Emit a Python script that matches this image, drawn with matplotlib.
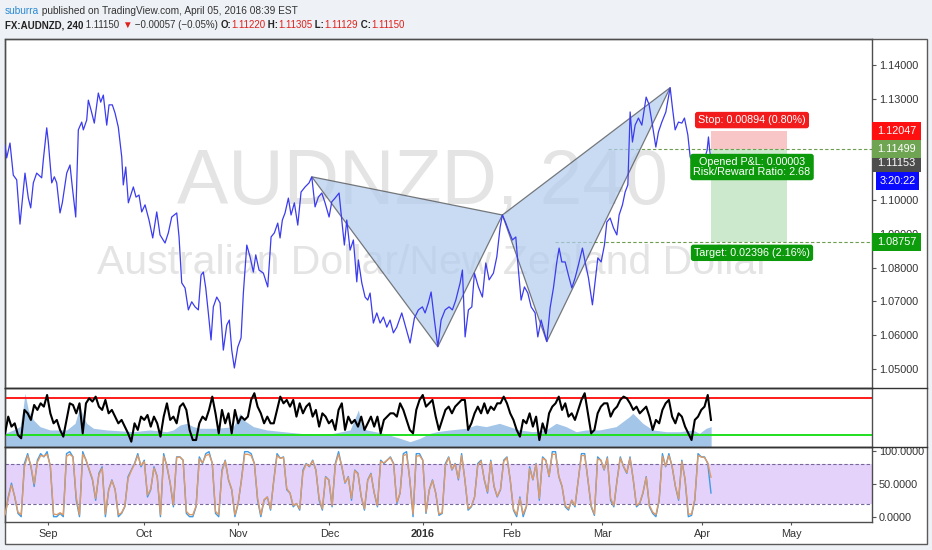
import matplotlib
matplotlib.use("Agg")
import matplotlib.pyplot as plt
import matplotlib.font_manager as fm
from matplotlib.patches import Polygon, Rectangle
from matplotlib.lines import Line2D
import numpy as np

# the screenshot is squeezed sideways, a narrow face fits it best
names = {f.name for f in fm.fontManager.ttflist}
NARROW = "Liberation Sans Narrow" if "Liberation Sans Narrow" in names else "Liberation Sans"
plt.rcParams["font.family"] = [NARROW, "DejaVu Sans"]
TICK_FS = 8.9 if NARROW.endswith("Narrow") else 7.8

# ---- data (x = trading days from Aug 17 2015) ----
price_x = [0.0, 0.4, 1.17, 1.94, 2.74, 3.51, 4.68, 5.46, 6.02, 6.63, 7.42, 8.59, 8.97, 9.77, 10.14, 10.94, 11.55,
           12.11, 12.88, 13.42, 14.45, 15.22, 15.76, 16.56, 17.17, 17.96, 18.34, 19.13, 19.51, 20.14, 20.91, 21.85,
           22.41, 23.02, 23.82, 24.36, 25.13, 25.76, 26.53, 27.33, 27.70, 28.27, 28.88, 30.05, 30.68, 31.38, 32.01,
           32.79, 33.72, 34.59, 35.53, 36.30, 37.47, 38.24, 39.04, 40.21, 40.75, 41.38, 42.15,
           42.93, 43.72, 44.50, 45.27, 45.90, 46.44, 47.00, 47.61, 48.24, 48.78, 49.58, 50.35, 51.12, 51.92, 52.53,
           53.09, 53.70, 54.50, 55.27, 55.81, 56.61, 57.38, 58.15, 58.71, 59.48, 60.49, 61.52, 62.30, 63.07, 63.86,
           64.40, 64.94, 65.57, 66.35, 66.98, 67.75, 68.55, 69.32, 70.26, 71.19, 71.83, 72.60, 73.37, 74.17, 74.94,
           75.88, 76.51, 77.28, 78.22, 78.85, 79.46, 80.02, 80.80, 81.57, 82.37, 82.74, 83.54, 84.31,
           84.94, 85.48, 86.25, 87.05, 87.82, 88.60, 89.39, 90.16, 90.94, 91.73, 92.90, 93.68, 94.85, 95.86, 96.79,
           97.73, 98.36, 99.13, 99.77, 100.54, 101.34, 102.11, 103.04, 103.98, 104.75, 105.55, 106.56, 107.10,
           107.73, 108.50, 109.30, 109.91, 110.84, 111.78, 112.58, 113.35, 114.36, 115.15, 115.93, 116.46, 117.26,
           118.03, 118.81, 119.60, 120.21, 120.84, 121.62, 122.41, 123.19, 124.12, 124.75, 125.53, 126.86,
           127.63, 128.41, 129.20, 129.74, 130.37, 131.15, 131.92, 132.72, 133.49, 134.26, 135.20, 135.83, 136.61,
           137.54, 138.17, 138.81, 139.58, 140.35, 140.91, 141.69, 142.46, 143.26, 143.79, 144.57, 145.20, 145.83,
           146.37, 146.91, 147.54, 148.31, 149.11, 150.12, 150.82, 151.59, 152.39, 153.00, 153.79, 154.73, 155.74,
           156.28, 156.91, 157.68, 158.48, 159.09, 159.88, 160.42, 161.59, 162.76, 163.70, 164.40, 164.71, 164.99,
           165.34]
price_y = [1.1163, 1.1125, 1.1169, 1.1074, 1.1060, 1.0929, 1.1080, 1.1006, 1.0977, 1.1051, 1.1080, 1.1066, 1.1119,
           1.1214, 1.1172, 1.1051, 1.1069, 1.1051, 1.0962, 1.0992, 1.1080, 1.1104, 1.1039, 1.0950, 1.1208, 1.1231,
           1.1208, 1.1237, 1.1296, 1.1267, 1.1228, 1.1317, 1.1290, 1.1311, 1.1222, 1.1282, 1.1282, 1.1258, 1.1216,
           1.1128, 1.1045, 1.1098, 1.0992, 1.1039, 1.1009, 1.1015, 1.0965, 1.0986, 1.0941, 1.0888, 1.0965, 1.0897,
           1.0873, 1.0903, 1.0950, 1.0962, 1.0891, 1.0755, 1.0740,
           1.0675, 1.0699, 1.0684, 1.0675, 1.0778, 1.0787, 1.0740, 1.0666, 1.0586, 1.0684, 1.0713, 1.0696, 1.0556,
           1.0630, 1.0645, 1.0556, 1.0503, 1.0565, 1.0592, 1.0725, 1.0867, 1.0832, 1.0787, 1.0838, 1.0793, 1.0784,
           1.0743, 1.0891, 1.0903, 1.0932, 1.0888, 1.0941, 1.0962, 1.1006, 1.0956, 1.0992, 1.0926, 1.1024, 1.1039,
           1.1051, 1.1069, 1.0980, 1.1009, 1.1021, 1.0992, 1.0950, 1.0995, 1.1006, 1.1021, 1.0941, 1.0867, 1.0941,
           1.0852, 1.0882, 1.0758, 1.0823, 1.0755, 1.0713,
           1.0704, 1.0725, 1.0636, 1.0666, 1.0636, 1.0654, 1.0624, 1.0645, 1.0607, 1.0624, 1.0666, 1.0630, 1.0577,
           1.0651, 1.0675, 1.0684, 1.0666, 1.0696, 1.0728, 1.0645, 1.0566, 1.0645, 1.0675, 1.0684, 1.0675, 1.0704,
           1.0755, 1.0793, 1.0595, 1.0675, 1.0684, 1.0784, 1.0743, 1.0713, 1.0814, 1.0764, 1.0784, 1.0832, 1.0920,
           1.0956, 1.0932, 1.0906, 1.0882, 1.0891, 1.0793, 1.0704, 1.0743, 1.0725, 1.0684, 1.0666, 1.0595, 1.0645,
           1.0581,
           1.0681, 1.0740, 1.0817, 1.0858, 1.0817, 1.0817, 1.0778, 1.0740, 1.0770, 1.0808, 1.0858, 1.0817, 1.0770,
           1.0690, 1.0758, 1.0829, 1.0817, 1.0867, 1.0935, 1.0947, 1.0918, 1.0897, 1.0956, 1.0986, 1.1024, 1.1045,
           1.1261, 1.1172, 1.1222, 1.1243, 1.1222, 1.1305, 1.1282, 1.1222, 1.1157, 1.1202, 1.1231, 1.1261, 1.1333,
           1.1273, 1.1208, 1.1231, 1.1228, 1.1243, 1.1193, 1.1128, 1.1104, 1.1101, 1.1119, 1.1148, 1.1187, 1.1148,
           1.1115]

# bat pattern points X, A, B, C, D
bat_x = [71.83, 101.34, 116.46, 126.86, 155.74]
bat_y = [1.1069, 1.0566, 1.0956, 1.0581, 1.1333]

# position tool
entry, stop, target = 1.11499, 1.12047, 1.08757
pos_start, pos_end = 165.3, 183.1
entry_line_start, target_line_start = 141.2, 128.8

# right scale tags: value shown, position, colour
tag_text = ["1.12047", "1.11153", "1.11499", "3:20:22", "1.08757"]
tag_pos = [1.12047, 1.1109, 1.11499, 1.1057, 1.08757]
tag_color = ["#ff1010", "#4d4d4d", "#6fa552", "#0a0aff", "#0c9c0c"]

price_ticks = [1.05, 1.06, 1.07, 1.08, 1.09, 1.10, 1.11, 1.12, 1.13, 1.14]

month_pos = [10.07, 32.55, 54.5, 75.95, 97.9, 118.5, 139.8, 163.2, 184.1]
month_lab = ["Sep", "Oct", "Nov", "Dec", "2016", "Feb", "Mar", "Apr", "May"]

# oscillator panel (black line) and its shaded companion
osc_vals = [31.8, 50, 39.1, 42.7, 30, 26.4, 57.3, 53.6, 46.4, 62.7, 57.3, 64.5, 60.9, 73.6, 53.6, 42.7, 46.4, 35.5,
            28.2, 46.4, 64.5, 62.7, 53.6, 64.5, 31.8, 64.5, 70, 66.4, 71.8, 60.9, 57.3, 68.2, 53.6, 57.3, 50, 42.7,
            46.4, 39.1, 31.8, 22.7, 42.7, 35.5, 50, 46.4, 51.8, 39.1, 50, 42.7, 28.2, 50, 64.5, 46.4, 50, 42.7, 60.9,
            64.5, 57.3, 35.5, 24.5, 24.5, 42.7, 50, 46.4, 57.3, 71.8, 53.6, 31.8, 57.3, 42.7, 53.6, 31.8, 57.3, 42.7,
            50, 46.4, 50, 68.2, 75.5, 60.9, 53.6, 42.7, 50, 42.7, 42.7, 57.3, 71.8, 64.5, 68.2, 60.9, 68.2, 50, 64.5,
            53.6, 60.9, 64.5, 50, 57.3, 39.1, 53.6, 50, 42.7, 46.4, 35.5, 57.3, 64.5, 35.5, 50, 42.7, 46.4, 39.1, 50,
            35.5, 42.7, 50, 39.1, 50, 31.8, 46.4, 50, 53.6, 53.6, 50, 64.5, 57.3, 46.4, 35.5, 31.8, 57.3, 68.2, 73.6,
            60.9, 64.5, 68.2, 50, 35.5, 46.4, 57.3, 60.9, 53.6, 60.9, 64.5, 68.2, 68.2, 35.5,
            42.7, 53.6, 60.9, 53.6, 64.5, 53.6, 60.9, 57.3, 64.5, 64.5, 71.8, 64.5, 53.6, 46.4, 35.5, 28.2, 46.4, 42.7,
            53.6, 39.1, 50, 24.5, 42.7, 31.8, 53.6, 60.9, 64.5, 71.8, 57.3, 64.5, 50, 53.6, 46.4, 57.3, 68.2, 75.5,
            53.6, 31.8, 35.5, 53.6, 60.9, 64.5, 64.5, 50, 57.3, 60.9, 68.2, 71.8, 70, 64.5, 57.3, 60.9, 53.6, 57.3,
            60.9, 50, 35.5, 46.4, 42.7, 57.3, 64.5, 68.2, 50, 42.7, 53.6, 50, 39.1, 31.8, 24.5, 46.4, 50, 57.3, 60.9,
            73.6, 46.4]
area_x = [0.0, 1.95, 3.51, 4.29, 4.68, 5.46, 6.64, 8.2, 10.54, 14.44, 16.39, 17.56, 18.35, 19.13, 20.69, 23.81,
          30.06, 33.96, 37.86, 39.42, 41.0, 42.55, 44.11, 45.67, 49.57, 53.47, 55.04, 55.82, 58.16, 61.28, 65.18,
          69.09, 73.0, 76.89, 80.8, 82.75, 83.53, 84.7, 88.6, 92.5, 94.85, 97.19, 99.53, 101.1, 104.2, 107.96,
          110.3, 112.65, 115.77, 118.11, 120.45, 123.58, 126.7, 129.04, 131.38, 133.73, 136.07, 139.19, 143.09,
          146.21, 147.0, 149.34, 151.68, 154.8, 157.92, 161.04, 162.6, 164.17, 165.34]
area_v = [31.8, 35.5, 39.1, 60.9, 75.5, 57.3, 46.4, 39.1, 35.5, 35.5, 42.7, 60.9, 50, 42.7, 37.3, 35.5, 33.6, 35.5,
          33.6, 35.5, 40.9, 42.7, 39.1, 37.3, 37.3, 39.1, 53.6, 46.4, 39.1, 35.5, 33.6, 31.8, 30, 31.8, 35.5, 57.3,
          39.1, 35.5, 31.8, 26.4, 22.7, 26.4, 31.8, 33.6, 35.5, 37.3, 40.9, 39.1, 42.7, 39.1, 35.5, 33.6, 35.5, 42.7,
          39.1, 33.6, 35.5, 35.5, 39.1, 50, 53.6, 42.7, 35.5, 33.6, 33.6, 35.5, 31.8, 37.3, 39.1]
osc_hi, osc_lo = 70, 30

# stochastic %K (blue) and %D (orange)
stoch_k = [0, 30, 51, 30, 5, 0, 81, 96, 76, 46, 86, 96, 91, 99, 76, 0, 0, 5, 0, 96, 99, 91, 25, 0, 99, 86, 71, 56,
           25, 66, 76, 0, 41, 56, 41, 0, 5, 15, 61, 71, 81, 96, 76, 86, 30, 41, 76, 61, 0, 96, 76, 51, 15, 91, 91, 86,
           5, 0, 0, 15, 91, 81, 96, 99, 81, 5, 0, 71, 86, 56, 41, 0, 20, 56, 99, 99, 96, 81, 25, 0, 25, 30, 10, 56,
           96, 89, 91, 41, 36, 15, 20, 10, 71, 81, 76, 86, 71, 25, 10, 61, 56, 15, 81, 99, 76, 51, 61, 25, 71, 66,
           30, 10, 56, 66, 36, 15, 86, 81, 86, 91, 81, 20, 36, 96, 99, 56, 0, 96, 96, 86, 5, 41, 56, 36, 2, 5, 81,
           91, 71, 81, 56, 96, 56, 10,
           15, 30, 81, 86, 56, 36, 86, 46, 30, 41, 86, 91, 56, 10, 0, 30, 0, 15, 76, 56, 81, 25, 91, 86, 61, 99, 99,
           61, 46, 15, 10, 25, 15, 56, 96, 96, 56, 15, 2, 91, 86, 71, 91, 25, 15, 56, 91, 76, 66, 91, 56, 15, 20, 36,
           61, 15, 5, 0, 25, 96, 76, 96, 76, 46, 25, 86, 56, 0, 2, 25, 96, 91, 91, 81, 36]
stoch_d = [3, 28, 48, 31, 7, 3, 76, 93, 78, 50, 83, 93, 92, 95, 78, 4, 3, 6, 3, 92, 95, 91, 30, 3, 95, 87, 72, 58,
           28, 64, 74, 4, 40, 55, 42, 3, 6, 16, 58, 70, 80, 93, 78, 84, 33, 42, 74, 61, 3, 92, 78, 52, 18, 90, 91, 86,
           8, 3, 3, 16, 88, 82, 93, 95, 82, 8, 3, 68, 85, 57, 42, 3, 21, 55, 95, 95, 93, 81, 28, 3, 26, 30, 12, 55,
           93, 89, 90, 43, 36, 17, 20, 12, 68, 80, 77, 85, 71, 28, 12, 60, 56, 17, 79, 95, 77, 52, 60, 28, 70, 65,
           31, 12, 55, 65, 37, 17, 84, 82, 86, 90, 80, 22, 36, 93, 95, 57, 4, 92, 93, 86, 7, 40, 55, 36, 4, 6, 78,
           90, 72, 80, 58, 93, 57, 12,
           16, 30, 78, 85, 57, 38, 84, 47, 31, 42, 84, 90, 57, 12, 3, 28, 4, 16, 73, 57, 80, 28, 89, 86, 62, 95, 95,
           62, 47, 17, 12, 25, 17, 55, 93, 93, 57, 17, 4, 88, 86, 72, 89, 28, 17, 55, 89, 77, 67, 89, 57, 17, 21, 37,
           60, 17, 7, 3, 26, 92, 77, 93, 77, 47, 27, 84, 57, 4, 4, 27, 93, 91, 90, 82, 60]
stoch_hi, stoch_lo = 80, 20
last_day = 165.3

# ---- figure ----
W, H = 932, 550
fig = plt.figure(figsize=(W / 100, H / 100), dpi=100, facecolor="#eef1f5")
renderer = fig.canvas.get_renderer()


def box(l, t, r, b):
    return [l / W, 1 - b / H, (r - l) / W, (b - t) / H]


def fit_size(s, width_px, weight="normal", base=10.0):
    t = fig.text(0, 0, s, fontsize=base, fontweight=weight)
    w = t.get_window_extent(renderer).width
    t.remove()
    return base * width_px / w


fig.add_artist(Rectangle((5 / W, 1 - 544 / H), 922 / W, 505 / H, transform=fig.transFigure,
                         fc="white", ec="#5a5a5a", lw=1.0, zorder=-5))

ax = fig.add_axes(box(5, 39, 872, 388))
ax_osc = fig.add_axes(box(5, 388, 872, 447))
ax_st = fig.add_axes(box(5, 447, 872, 522))
for a in (ax, ax_osc, ax_st):
    a.set_xlim(0, 203.0)
    a.set_facecolor("none")
    for sp in a.spines.values():
        sp.set_color("#4d4d4d")
        sp.set_linewidth(1.0)
    a.tick_params(axis="both", colors="#555555", labelcolor="#333333", labelsize=TICK_FS, length=3, width=0.8, pad=2)

# separators that run across the price scale too
for yy in (388, 447):
    fig.add_artist(Line2D([5 / W, 927 / W], [1 - yy / H, 1 - yy / H], color="#333333", lw=1.0))

# ---- header ----
def header_line(y_px, parts, target_w):
    size = 10.0
    for attempt in range(2):
        x = 5 / W
        made = []
        for s, color, weight in parts:
            t = fig.text(x, 1 - y_px / H, s, color=color, fontweight=weight, fontsize=size, va="center", ha="left")
            made.append(t)
            x = t.get_window_extent(renderer).x1 / W
        if attempt == 0:
            size = size * target_w / (x * W - 5)
            for t in made:
                t.remove()


RED = "#e0201b"
header_line(11, [("suburra", "#2a8ad4", "normal"),
                 (" published on TradingView.com, April 05, 2016 08:39 EST", "#333333", "normal")], 292)
header_line(25, [("FX:AUDNZD, 240", "#222222", "bold"), (" 1.11150 ", "#333333", "normal"),
                 ("▼", RED, "normal"), (" \u22120.00057 (\u22120.05%) ", "#333333", "normal"),
                 ("O:", "#222222", "bold"), ("1.11220", RED, "normal"), (" H:", "#222222", "bold"),
                 ("1.11305", RED, "normal"), (" L:", "#222222", "bold"), ("1.11129", RED, "normal"),
                 (" C:", "#222222", "bold"), ("1.11150", RED, "normal")], 402)

# ---- main price panel ----
ax.text(0.482, 0.586, "AUDNZD, 240", transform=ax.transAxes, ha="center", va="center",
        fontsize=fit_size("AUDNZD, 240", 492), color="#e4e4e4", zorder=0)
ax.text(0.494, 0.358, "Australian Dollar/New Zealand Dollar", transform=ax.transAxes, ha="center", va="center",
        fontsize=fit_size("Australian Dollar/New Zealand Dollar", 676), color="#e4e4e4", zorder=0)

tri1 = list(zip(bat_x[0:3], bat_y[0:3]))
tri2 = list(zip(bat_x[2:5], bat_y[2:5]))
for tri in (tri1, tri2):
    ax.add_patch(Polygon(tri, closed=True, fc="#b3cdef", ec="#4a4a4a", lw=0.9, alpha=0.72, zorder=3))

ax.fill_between([pos_start, pos_end], entry, stop, color="#f8c6c6", lw=0, zorder=2)
ax.fill_between([pos_start, pos_end], target, entry, color="#cde9cd", lw=0, zorder=2)
ax.hlines(entry, entry_line_start, 203.0, colors="#6b9e4f", lw=0.8, linestyles=(0, (3, 2)), zorder=2)
ax.hlines(target, target_line_start, 203.0, colors="#6b9e4f", lw=0.8, linestyles=(0, (3, 2)), zorder=2)

ax.plot(price_x, price_y, color="#3b3bef", lw=0.9, zorder=4)

lab_fs = fit_size("Stop: 0.00894 (0.80%)", 107)
ax.text(174.9, 1.1237, "Stop: 0.00894 (0.80%)", ha="center", va="center", color="white", fontsize=lab_fs,
        zorder=8, bbox=dict(boxstyle="round,pad=0.3,rounding_size=0.25", fc="#f21c1c", ec="none"))
ax.text(174.9, 1.1098, "Opened P&L: 0.00003\nRisk/Reward Ratio: 2.68", ha="center", va="center",
        color="white", fontsize=lab_fs, linespacing=1.0, zorder=8,
        bbox=dict(boxstyle="round,pad=0.3,rounding_size=0.25", fc="#0b990b", ec="none"))
ax.text(174.9, 1.0844, "Target: 0.02396 (2.16%)", ha="center", va="center", color="white", fontsize=lab_fs,
        zorder=8, bbox=dict(boxstyle="round,pad=0.3,rounding_size=0.25", fc="#0b990b", ec="none"))

ax.set_ylim(1.04438, 1.1477)
ax.yaxis.tick_right()
ax.set_yticks(price_ticks)
ax.set_yticklabels([f"{v:.5f}" for v in price_ticks])
ax.set_xticks([])

# tags on the price scale
px_w = ax.bbox.width
px_h = ax.bbox.height
dy = (1.1477 - 1.04438) / px_h
ytrans = ax.get_yaxis_transform()
for s, v, c in zip(tag_text, tag_pos, tag_color):
    x0, wpx = (4, 43) if ":" in s else (0, 49)
    ax.add_patch(Rectangle((1 + x0 / px_w, v - 9 * dy), wpx / px_w, 18 * dy, transform=ytrans,
                           fc=c, ec="none", clip_on=False, zorder=10))
    ax.text(1 + (x0 + wpx / 2) / px_w, v, s, transform=ytrans, ha="center", va="center", color="white",
            fontsize=TICK_FS, clip_on=False, zorder=11)

# ---- oscillator panel ----
osc_x = np.linspace(0, last_day, len(osc_vals))
ax_osc.set_ylim(16.9, 81.2)
ax_osc.fill_between(area_x, 16.9, area_v, color="#a3c5e8", lw=0, zorder=1)
ax_osc.axhline(osc_hi, color="#ff1a1a", lw=1.4, zorder=2)
ax_osc.axhline(osc_lo, color="#1fe01f", lw=1.4, zorder=2)
ax_osc.plot(osc_x, osc_vals, color="black", lw=1.5, zorder=3)
ax_osc.set_xticks([])
ax_osc.set_yticks([])

# ---- stochastic panel ----
st_x = np.linspace(0, last_day, len(stoch_k))
ax_st.set_ylim(-8.1, 106.1)
ax_st.axhspan(stoch_lo, stoch_hi, color="#e4d2fa", lw=0, zorder=0)
for lv in (stoch_lo, stoch_hi):
    ax_st.axhline(lv, color="#76679a", lw=0.8, ls=(0, (3, 2)), zorder=1)
ax_st.plot(st_x, stoch_k, color="#3f9be6", lw=1.0, zorder=2)
ax_st.plot(st_x, stoch_d, color="#df9a66", lw=1.0, zorder=3)
ax_st.yaxis.tick_right()
ax_st.set_yticks([0, 50, 100])
ax_st.set_yticklabels(["0.0000", "50.0000", "100.0000"])
ax_st.set_xticks(month_pos)
ax_st.set_xticklabels(month_lab)
ax_st.tick_params(axis="x", length=2, pad=3)
ax_st.get_xticklabels()[month_lab.index("2016")].set_fontweight("bold")

fig.savefig("out.png", dpi=100, facecolor=fig.get_facecolor())
